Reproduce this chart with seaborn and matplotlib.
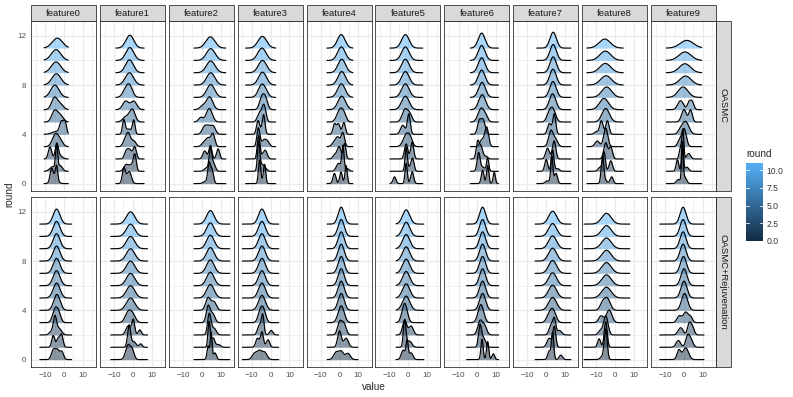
import numpy as np
import pandas as pd
import matplotlib
matplotlib.use("Agg")
import matplotlib.pyplot as plt
import seaborn as sns
from matplotlib.patches import Rectangle
from matplotlib.colors import LinearSegmentedColormap

groups = ["OASMC", "OASMC+Rejuvenation"]
features = ["feature0", "feature1", "feature2", "feature3", "feature4",
            "feature5", "feature6", "feature7", "feature8", "feature9"]
rounds = list(range(12))
x_ticks = [-10, 0, 10]
y_ticks = [0, 4, 8, 12]
legend_ticks = [0.0, 2.5, 5.0, 7.5, 10.0]

# x extent of the ridgelines in each panel
range_oasmc = [(-10.5, 2.3), (-9.0, 6.0), (-4.1, 12.8), (-13.3, 2.7), (-6.7, 7.1),
               (-9.8, 7.6), (-3.7, 11.2), (-5.0, 13.1), (-15.0, 4.3), (-9.4, 9.4)]
range_rejuv = [(-12.8, 4.1), (-11.7, 7.8), (-4.1, 14.9), (-15.0, 4.3), (-6.6, 9.8),
               (-6.6, 8.2), (-5.7, 11.3), (-5.9, 13.1), (-16.5, 7.8), (-12.9, 10.6)]

# density modes: per round (0..11) a list of (centre, spread, weight)
oasmc_f0 = [[(-6.6, 0.8, 0.35), (-3.9, 0.6, 0.3), (-5.0, 1.5, 0.35)],
            [(-3.9, 0.55, 0.5), (-6.0, 1.5, 0.25), (-2.0, 1.2, 0.25)],
            [(-7.4, 0.9, 0.4), (-3.8, 0.8, 0.4), (-2.5, 1.5, 0.2)],
            [(-4.6, 1.6, 0.7), (-2.0, 1.5, 0.3)],
            [(-1.3, 1.0, 0.45), (0.6, 0.8, 0.35), (-4.5, 2.0, 0.2)],
            [(-5.0, 1.5, 0.6), (-2.0, 1.6, 0.4)],
            [(-5.2, 1.5, 0.6), (-2.3, 1.8, 0.4)],
            [(-4.8, 2.2, 1)], [(-4.0, 2.4, 1)], [(-4.2, 2.5, 1)],
            [(-4.2, 2.5, 1)], [(-3.5, 2.7, 1)]]
oasmc_f1 = [[(-4.8, 0.8, 0.45), (-1.6, 1.0, 0.35), (-3.0, 1.0, 0.2)],
            [(1.0, 0.8, 0.5), (-3.5, 1.2, 0.3), (-1.0, 1.0, 0.2)],
            [(-3.4, 1.0, 0.3), (-1.5, 1.0, 0.3), (1.0, 0.9, 0.4)],
            [(-2.5, 1.2, 0.6), (0.5, 1.2, 0.25), (-4.5, 1.0, 0.15)],
            [(-4.8, 0.7, 0.35), (0.5, 0.7, 0.35), (-2.3, 1.5, 0.3)],
            [(-0.3, 1.5, 0.7), (-3.8, 1.6, 0.3)],
            [(-3.8, 1.6, 0.5), (0.5, 1.6, 0.5)],
            [(-1.8, 1.6, 0.7), (-4.2, 1.5, 0.3)],
            [(-1.8, 2.2, 1)], [(-1.8, 2.1, 1)], [(-1.6, 2.1, 1)], [(-1.6, 2.1, 1)]]
oasmc_f2 = [[(3.9, 0.7, 0.5), (5.5, 0.8, 0.4), (2.0, 1.2, 0.1)],
            [(4.6, 0.7, 0.55), (6.2, 1.0, 0.3), (2.5, 1.2, 0.15)],
            [(1.6, 1.0, 0.3), (4.6, 0.8, 0.4), (8.7, 0.8, 0.3)],
            [(6.0, 1.0, 0.45), (3.4, 1.3, 0.4), (1.0, 1.2, 0.15)],
            [(1.3, 1.2, 0.3), (3.4, 1.2, 0.3), (6.0, 1.3, 0.4)],
            [(4.0, 1.6, 0.8), (-0.5, 1.2, 0.2)],
            [(4.2, 1.7, 0.8), (0.5, 1.5, 0.2)],
            [(4.8, 2.1, 1)], [(4.8, 2.2, 1)], [(4.8, 2.3, 1)], [(4.8, 2.3, 1)], [(4.6, 2.4, 1)]]
oasmc_f3 = [[(-5.9, 0.6, 0.5), (-3.2, 0.6, 0.4), (-4.5, 1.2, 0.1)],
            [(-6.4, 0.6, 0.6), (-5.0, 1.2, 0.3), (-3.0, 1.0, 0.1)],
            [(-6.4, 0.7, 0.6), (-2.8, 1.0, 0.3), (-4.5, 1.0, 0.1)],
            [(-6.5, 0.8, 0.55), (-3.5, 1.2, 0.3), (-1.5, 1.0, 0.15)],
            [(-6.7, 0.8, 0.35), (-3.7, 0.7, 0.45), (-5.0, 1.5, 0.2)],
            [(-5.8, 1.2, 0.4), (-3.5, 1.0, 0.6)],
            [(-4.8, 1.2, 0.5), (-2.8, 1.2, 0.5)],
            [(-4.8, 1.8, 0.8), (-2.5, 1.5, 0.2)],
            [(-4.3, 2.1, 1)], [(-4.3, 2.2, 1)], [(-4.6, 2.2, 1)], [(-4.4, 2.3, 1)]]
oasmc_f4 = [[(-2.7, 0.8, 0.3), (0.8, 0.7, 0.3), (3.5, 0.6, 0.4)],
            [(1.8, 0.6, 0.55), (-0.5, 1.2, 0.35), (4.0, 1.0, 0.1)],
            [(-0.2, 1.0, 0.45), (2.7, 0.7, 0.4), (-2.5, 1.0, 0.15)],
            [(-0.9, 1.2, 0.4), (1.8, 0.9, 0.45), (-3.0, 1.2, 0.15)],
            [(-2.7, 0.8, 0.3), (-0.6, 0.9, 0.35), (2.3, 0.8, 0.35)],
            [(0.4, 1.7, 0.8), (2.5, 1.2, 0.2)],
            [(1.2, 2.0, 1)], [(1.0, 2.0, 1)], [(1.2, 2.0, 1)],
            [(1.2, 2.0, 1)], [(1.0, 2.0, 1)], [(0.9, 2.0, 1)]]
oasmc_f5 = [[(-7.4, 0.8, 0.2), (-1.2, 0.6, 0.45), (2.0, 0.8, 0.35)],
            [(-1.2, 0.6, 0.5), (2.2, 0.8, 0.35), (0.5, 1.2, 0.15)],
            [(-1.2, 0.9, 0.5), (2.0, 0.8, 0.5)],
            [(-1.2, 1.6, 0.7), (1.0, 1.2, 0.3)],
            [(-3.0, 1.2, 0.4), (0.2, 0.8, 0.6)],
            [(-1.8, 1.5, 0.7), (0.8, 1.2, 0.3)],
            [(-1.6, 2.0, 1)], [(-1.6, 2.0, 1)], [(-1.6, 2.0, 1)],
            [(-1.6, 2.0, 1)], [(-1.6, 2.0, 1)], [(-1.6, 2.0, 1)]]
oasmc_f6 = [[(2.8, 0.7, 0.35), (5.5, 0.6, 0.4), (9.0, 0.6, 0.25)],
            [(0.7, 0.8, 0.55), (5.5, 0.6, 0.3), (3.0, 1.0, 0.15)],
            [(0.2, 0.8, 0.5), (2.0, 0.9, 0.4), (4.5, 1.0, 0.1)],
            [(5.0, 1.0, 0.7), (2.5, 1.2, 0.3)],
            [(1.1, 1.0, 0.5), (3.2, 1.0, 0.5)],
            [(2.0, 1.6, 0.8), (4.5, 1.2, 0.2)],
            [(2.6, 1.8, 1)], [(2.5, 1.8, 1)], [(2.3, 1.8, 1)],
            [(2.3, 1.8, 1)], [(2.3, 1.8, 1)], [(2.3, 1.8, 1)]]
oasmc_f7 = [[(3.0, 0.6, 0.6), (5.2, 0.8, 0.3), (0.5, 1.0, 0.1)],
            [(0.0, 0.8, 0.35), (3.4, 0.7, 0.55), (6.0, 1.0, 0.1)],
            [(0.7, 1.0, 0.4), (4.2, 0.9, 0.6)],
            [(2.5, 1.2, 0.7), (5.0, 1.2, 0.3)],
            [(1.7, 1.0, 0.4), (4.3, 0.8, 0.6)],
            [(3.4, 1.5, 0.75), (1.2, 1.2, 0.25)],
            [(3.4, 1.7, 1)], [(3.6, 1.7, 1)], [(3.6, 1.7, 1)],
            [(3.7, 1.7, 1)], [(3.7, 1.7, 1)], [(3.7, 1.7, 1)]]
oasmc_f8 = [[(-6.7, 0.7, 0.7), (-1.8, 0.8, 0.2), (-5.0, 1.0, 0.1)],
            [(-5.9, 0.7, 0.5), (-2.3, 0.9, 0.35), (-8.0, 1.0, 0.15)],
            [(-5.0, 1.0, 0.6), (-2.3, 0.9, 0.4)],
            [(-5.0, 1.1, 0.75), (-9.5, 1.2, 0.25)],
            [(-7.3, 0.9, 0.45), (-4.1, 0.9, 0.45), (-10.0, 1.0, 0.1)],
            [(-5.0, 2.0, 1)], [(-5.9, 2.4, 1)], [(-4.5, 2.6, 1)],
            [(-4.8, 2.9, 1)], [(-5.2, 2.9, 1)], [(-5.2, 2.9, 1)], [(-5.5, 3.0, 1)]]
oasmc_f9 = [[(-0.9, 0.45, 0.6), (0.3, 1.0, 0.25), (-3.0, 1.0, 0.15)],
            [(-3.5, 0.7, 0.3), (-0.8, 0.5, 0.55), (1.5, 1.0, 0.15)],
            [(-1.8, 0.7, 0.3), (-0.6, 0.5, 0.5), (2.5, 1.0, 0.2)],
            [(0.0, 1.2, 0.8), (-2.5, 1.0, 0.2)],
            [(0.8, 1.8, 0.85), (-2.0, 1.2, 0.15)],
            [(0.0, 1.3, 0.6), (3.5, 0.9, 0.4)],
            [(-1.8, 1.5, 0.5), (2.7, 0.9, 0.25), (4.4, 0.9, 0.25)],
            [(-0.5, 2.6, 1)], [(0.8, 3.0, 1)], [(0.5, 3.0, 1)],
            [(0.5, 3.2, 1)], [(1.5, 3.5, 1)]]

rejuv_f0 = [[(-5.7, 1.0, 0.35), (-3.6, 1.0, 0.35), (-1.2, 1.0, 0.3)],
            [(-5.7, 0.8, 0.35), (-3.0, 0.9, 0.3), (-1.2, 0.8, 0.35)],
            [(-4.8, 0.9, 0.6), (-2.5, 1.3, 0.3), (-7.0, 1.0, 0.1)],
            [(-4.8, 1.3, 0.6), (-2.8, 1.2, 0.4)],
            [(-3.7, 1.7, 1)], [(-3.9, 1.8, 1)], [(-3.9, 1.8, 1)], [(-3.9, 1.8, 1)],
            [(-3.9, 1.8, 1)], [(-3.9, 1.8, 1)], [(-3.9, 1.8, 1)], [(-3.9, 1.8, 1)]]
rejuv_f1 = [[(-2.5, 1.3, 0.7), (-0.2, 1.0, 0.3)],
            [(-2.0, 0.8, 0.65), (0.5, 1.2, 0.25), (4.2, 0.8, 0.1)],
            [(-2.5, 1.2, 0.4), (0.2, 0.8, 0.45), (3.7, 0.8, 0.15)],
            [(-2.5, 1.6, 0.6), (0.0, 1.5, 0.4)],
            [(-1.2, 2.2, 1)], [(-1.2, 2.2, 1)], [(-1.2, 2.2, 1)], [(-1.2, 2.2, 1)],
            [(-1.2, 2.2, 1)], [(-1.2, 2.2, 1)], [(-1.2, 2.2, 1)], [(-1.2, 2.2, 1)]]
rejuv_f2 = [[(3.4, 0.6, 0.3), (5.0, 0.5, 0.5), (7.0, 0.8, 0.2)],
            [(3.9, 0.6, 0.55), (6.0, 1.0, 0.35), (9.0, 1.0, 0.1)],
            [(4.0, 0.9, 0.7), (6.5, 1.2, 0.3)],
            [(3.4, 1.0, 0.6), (5.8, 1.2, 0.4)],
            [(3.4, 1.3, 0.6), (6.5, 1.3, 0.4)],
            [(4.6, 2.0, 1)], [(4.6, 2.0, 1)], [(4.6, 2.0, 1)],
            [(4.6, 2.0, 1)], [(4.6, 2.0, 1)], [(4.6, 2.0, 1)], [(4.6, 2.0, 1)]]
rejuv_f3 = [[(-8.5, 1.3, 0.3), (-5.9, 1.2, 0.35), (-3.2, 1.3, 0.35)],
            [(-7.0, 0.9, 0.3), (-4.6, 0.8, 0.45), (-1.4, 0.9, 0.25)],
            [(-6.0, 1.0, 0.35), (-4.2, 0.7, 0.5), (0.3, 0.9, 0.15)],
            [(-5.3, 1.3, 0.6), (-3.5, 1.2, 0.4)],
            [(-4.6, 1.8, 1)], [(-4.6, 1.8, 1)], [(-4.6, 1.8, 1)], [(-4.6, 1.8, 1)],
            [(-4.6, 1.8, 1)], [(-4.6, 1.8, 1)], [(-4.6, 1.8, 1)], [(-4.6, 1.8, 1)]]
rejuv_f4 = [[(-1.8, 1.3, 0.35), (0.9, 1.2, 0.35), (4.4, 1.3, 0.3)],
            [(0.0, 1.0, 0.6), (3.5, 1.2, 0.4)],
            [(0.0, 1.1, 0.5), (2.3, 1.2, 0.5)],
            [(0.9, 1.6, 1)], [(0.9, 1.6, 1)], [(0.9, 1.6, 1)], [(0.9, 1.6, 1)],
            [(0.9, 1.6, 1)], [(0.9, 1.6, 1)], [(0.9, 1.6, 1)], [(0.9, 1.6, 1)], [(0.9, 1.6, 1)]]
rejuv_f5 = [[(-2.8, 1.0, 0.35), (-0.7, 0.6, 0.4), (1.4, 1.0, 0.25)],
            [(-2.0, 0.7, 0.7), (0.5, 1.3, 0.3)],
            [(-2.0, 1.1, 0.6), (1.4, 1.2, 0.4)],
            [(-2.0, 1.4, 1)],
            [(-1.2, 1.9, 1)], [(-1.2, 1.9, 1)], [(-1.2, 1.9, 1)], [(-1.2, 1.9, 1)],
            [(-1.2, 1.9, 1)], [(-1.2, 1.9, 1)], [(-1.2, 1.9, 1)], [(-1.2, 1.9, 1)]]
rejuv_f6 = [[(2.5, 0.6, 0.45), (5.5, 0.6, 0.4), (8.5, 0.7, 0.15)],
            [(1.4, 0.8, 0.6), (3.3, 1.2, 0.4)],
            [(1.4, 1.2, 0.6), (3.8, 1.2, 0.4)],
            [(1.9, 1.5, 1)],
            [(2.8, 1.6, 1)], [(2.8, 1.6, 1)], [(2.8, 1.6, 1)], [(2.8, 1.6, 1)],
            [(2.8, 1.6, 1)], [(2.8, 1.6, 1)], [(2.8, 1.6, 1)], [(2.8, 1.6, 1)]]
rejuv_f7 = [[(1.6, 0.8, 0.25), (3.4, 0.6, 0.6), (7.8, 0.9, 0.15)],
            [(4.3, 0.8, 0.6), (1.6, 1.2, 0.4)],
            [(2.5, 1.0, 0.35), (4.3, 0.8, 0.45), (7.0, 1.2, 0.2)],
            [(3.4, 1.6, 0.8), (1.0, 1.3, 0.2)],
            [(3.4, 2.1, 1)], [(3.4, 2.1, 1)], [(3.4, 2.1, 1)], [(3.4, 2.1, 1)],
            [(3.4, 2.1, 1)], [(3.4, 2.1, 1)], [(3.4, 2.1, 1)], [(3.4, 2.1, 1)]]
rejuv_f8 = [[(-5.0, 0.8, 0.9), (-7.0, 1.0, 0.1)],
            [(-8.5, 0.8, 0.25), (-5.0, 0.8, 0.75)],
            [(-5.0, 1.2, 0.85), (-8.0, 1.0, 0.15)],
            [(-7.5, 1.2, 0.3), (-3.2, 1.5, 0.7)],
            [(-6.8, 1.3, 0.3), (-4.2, 1.6, 0.7)],
            [(-4.6, 2.5, 1)], [(-4.6, 2.5, 1)], [(-4.6, 2.5, 1)],
            [(-4.6, 2.5, 1)], [(-4.6, 2.5, 1)], [(-4.6, 2.5, 1)], [(-4.6, 2.5, 1)]]
rejuv_f9 = [[(-2.7, 1.0, 0.35), (0.9, 1.5, 0.65)],
            [(-3.0, 1.2, 0.3), (1.8, 1.0, 0.35), (3.5, 1.2, 0.35)],
            [(-1.8, 1.3, 0.35), (2.7, 0.9, 0.35), (4.4, 1.0, 0.3)],
            [(-2.5, 1.2, 0.3), (0.9, 1.3, 0.5), (3.5, 1.0, 0.2)],
            [(0.3, 1.6, 1)], [(0.0, 1.6, 1)], [(0.0, 1.6, 1)], [(-0.3, 1.6, 1)],
            [(-0.5, 1.6, 1)], [(-0.5, 1.6, 1)], [(-0.5, 1.6, 1)], [(-0.5, 1.6, 1)]]

modes = {
    "OASMC": [oasmc_f0, oasmc_f1, oasmc_f2, oasmc_f3, oasmc_f4,
              oasmc_f5, oasmc_f6, oasmc_f7, oasmc_f8, oasmc_f9],
    "OASMC+Rejuvenation": [rejuv_f0, rejuv_f1, rejuv_f2, rejuv_f3, rejuv_f4,
                           rejuv_f5, rejuv_f6, rejuv_f7, rejuv_f8, rejuv_f9],
}
ranges = {"OASMC": range_oasmc, "OASMC+Rejuvenation": range_rejuv}

SCALE = 5.5
rows = []
for grp in groups:
    for fi, feat in enumerate(features):
        lo, hi = ranges[grp][fi]
        xs = np.linspace(lo, hi, 400)
        for r in rounds:
            comps = modes[grp][fi][r]
            wsum = sum(c[2] for c in comps)
            dens = np.zeros_like(xs)
            for mu, sd, w in comps:
                dens += (w / wsum) * np.exp(-0.5 * ((xs - mu) / sd) ** 2) / (sd * np.sqrt(2 * np.pi))
            for xv, dv in zip(xs, dens):
                rows.append((grp, feat, r, xv, dv * SCALE))
df = pd.DataFrame(rows, columns=["group", "feature", "round", "value", "height"])

sns.set_style("white")
plt.rcParams["font.family"] = ["Liberation Sans", "DejaVu Sans"]

cmap = LinearSegmentedColormap.from_list("gg", ["#132B43", "#56B1F7"])
RMAX = 11.0


def draw_ridges(data, **kw):
    ax = plt.gca()
    for i, r in enumerate(sorted(data["round"].unique(), reverse=True)):
        d = data[data["round"] == r].sort_values("value")
        col = cmap(r / RMAX)
        ax.fill_between(d["value"], r, r + d["height"], color=col, alpha=0.5,
                        lw=0, zorder=3 + 2 * i)
        ax.plot(d["value"], r + d["height"], color="black", lw=0.85, zorder=4 + 2 * i,
                solid_joinstyle="round")


g = sns.FacetGrid(df, row="group", col="feature", row_order=groups, col_order=features,
                  sharex=True, sharey=True, despine=False, height=2, aspect=0.4)
g.map_dataframe(draw_ridges)
fig = g.figure
fig.set_size_inches(7.93, 3.97)
fig.set_dpi(100)
W, H = 793.0, 397.0
fig.subplots_adjust(left=31 / W, right=716 / W, top=1 - 21 / H, bottom=1 - 367 / H,
                    wspace=4 / 65, hspace=6 / 170)
g.set_titles("")
g.set_axis_labels("", "")

for ri, grp in enumerate(groups):
    for ci, feat in enumerate(features):
        ax = g.axes[ri, ci]
        ax.set_facecolor("white")
        ax.set_xlim(-17.5, 17.0)
        ax.set_ylim(-0.6, 13.2)
        ax.set_xticks(x_ticks)
        ax.set_xticks([-15, -5, 5, 15], minor=True)
        ax.set_yticks(y_ticks)
        ax.set_yticks([2, 6, 10], minor=True)
        ax.grid(which="major", color="#EBEBEB", lw=0.9, zorder=0)
        ax.grid(which="minor", color="#EBEBEB", lw=0.5, zorder=0)
        ax.set_axisbelow(True)
        for s in ax.spines.values():
            s.set_color("#333333")
            s.set_linewidth(0.6)
            s.set_zorder(50)
        ax.tick_params(which="major", length=2.0, width=0.6, color="#333333",
                       labelsize=5.8, labelcolor="#4D4D4D", pad=1.5)
        ax.tick_params(which="minor", length=0)
        if ri == 0:
            ax.tick_params(labelbottom=False)
            ax.add_patch(Rectangle((0, 1), 1, 16 / 170, transform=ax.transAxes,
                                   clip_on=False, facecolor="#D9D9D9",
                                   edgecolor="#333333", lw=0.6))
            ax.text(0.5, 1 + 8 / 170, feat, transform=ax.transAxes, ha="center",
                    va="center", fontsize=6.8, color="#1A1A1A")
        if ci == len(features) - 1:
            ax.add_patch(Rectangle((1, 0), 15 / 65, 1, transform=ax.transAxes,
                                   clip_on=False, facecolor="#D9D9D9",
                                   edgecolor="#333333", lw=0.6))
            ax.text(1 + 7.5 / 65, 0.5, grp, transform=ax.transAxes, ha="center",
                    va="center", rotation=270, fontsize=6.8, color="#1A1A1A")
        if ci != 0:
            ax.tick_params(labelleft=False)
        ax.set_xlabel("")
        ax.set_ylabel("")

fig.text(373.5 / W, 1 - 387 / H, "value", ha="center", va="center", fontsize=7.2)
fig.text(9.5 / W, 1 - 194 / H, "round", ha="center", va="center", rotation=90, fontsize=7.2)

# colour bar legend
cax = fig.add_axes([746 / W, 1 - 241 / H, 17 / W, 78 / H])
grad = np.linspace(0, RMAX, 256).reshape(-1, 1)
cax.imshow(grad, aspect="auto", cmap=cmap, origin="lower", extent=[0, 1, 0, RMAX],
           vmin=0, vmax=RMAX)
for t in legend_ticks:
    cax.plot([0, 0.2], [t, t], color="white", lw=0.6)
    cax.plot([0.8, 1], [t, t], color="white", lw=0.6)
cax.set_xlim(0, 1)
cax.set_ylim(0, RMAX)
cax.set_xticks([])
cax.yaxis.tick_right()
cax.set_yticks(legend_ticks)
cax.set_yticklabels([f"{t:.1f}" for t in legend_ticks])
cax.tick_params(axis="y", length=0, labelsize=6.2, labelcolor="#333333", pad=2.5)
for s in cax.spines.values():
    s.set_visible(False)
fig.text(746 / W, 1 - 154 / H, "round", ha="left", va="center", fontsize=7.2)

fig.savefig("out.png", dpi=100)
